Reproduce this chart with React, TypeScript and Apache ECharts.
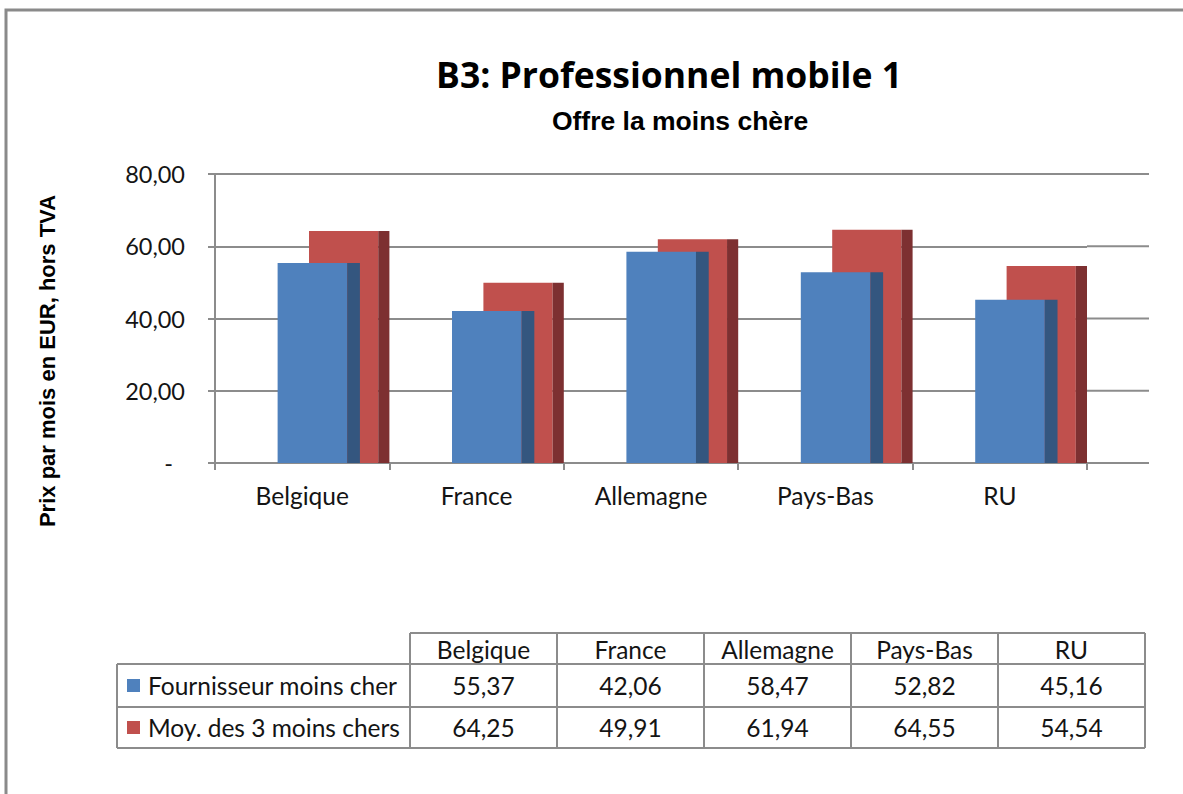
import React, { useEffect, useRef } from "react";
import * as echarts from "echarts";

const categories = ["Belgique", "France", "Allemagne", "Pays-Bas", "RU"];
const seriesNames = ["Fournisseur moins cher", "Moy. des 3 moins chers"];
const cheapest = [55.37, 42.06, 58.47, 52.82, 45.16];
const avg3 = [64.25, 49.91, 61.94, 64.55, 54.54];
const yTicks = [0, 20, 40, 60, 80];
const yTickLabels = ["-", "20,00", "40,00", "60,00", "80,00"];

const BLUE = "#4f81bd";
const BLUE_SIDE = "#34567f";
const RED = "#c0504d";
const RED_SIDE = "#7d3031";
const GRID_COLOR = "#8c8c8c";
const FONT = "Lato";
const TXT = "#141414";

const fmt = (v: number) => v.toFixed(2).replace(".", ",");

function makeRender(face: string, side: string, f0: number, f1: number, f2: number) {
  return (params: any, api: any) => {
    const idx = api.value(0);
    const val = api.value(1);
    const top = api.coord([idx, val]);
    const base = api.coord([idx, 0]);
    const w = api.size([1, 0])[0];
    const cx = top[0];
    const h = base[1] - top[1];
    return {
      type: "group",
      children: [
        { type: "rect", shape: { x: cx + f0 * w, y: top[1], width: (f1 - f0) * w, height: h }, style: { fill: face } },
        { type: "rect", shape: { x: cx + f1 * w, y: top[1], width: (f2 - f1) * w, height: h }, style: { fill: side } },
      ],
    };
  };
}

export default function App() {
  const ref = useRef<HTMLDivElement>(null);
  useEffect(() => {
    if (!ref.current) return;
    const chart = echarts.init(ref.current, null, { renderer: "svg" });
    const gridLeft = 215;
    const gridTop = 174;
    const gridWidth = 872;
    const gridHeight = 289;
    chart.setOption({
      animation: false,
      backgroundColor: "#ffffff",
      grid: { left: gridLeft, top: gridTop, width: gridWidth, height: gridHeight },
      xAxis: {
        type: "category",
        data: categories,
        axisLine: { lineStyle: { color: GRID_COLOR, width: 2 } },
        axisTick: { show: true, length: 7, interval: 0, lineStyle: { color: GRID_COLOR, width: 2 } },
        axisLabel: { color: TXT, fontFamily: FONT, fontSize: 24.5, margin: 20, interval: 0 },
      },
      yAxis: {
        type: "value",
        min: 0,
        max: 80,
        interval: 20,
        axisLine: { show: true, lineStyle: { color: GRID_COLOR, width: 2 } },
        axisTick: { show: true, length: 7, lineStyle: { color: GRID_COLOR, width: 2 } },
        splitLine: { show: true, lineStyle: { color: GRID_COLOR, width: 2 } },
        axisLabel: {
          color: TXT,
          fontFamily: FONT,
          fontSize: 23.5,
          margin: 30,
          formatter: (v: number) => {
            const i = yTicks.indexOf(v);
            const s = i >= 0 ? yTickLabels[i] : fmt(v);
            return v === 0 ? "{d|" + s + "}" : s;
          },
          rich: { d: { fontFamily: FONT, fontSize: 23.5, color: TXT, padding: [0, 12, 0, 0] } },
        },
      },
      series: [
        {
          type: "custom",
          name: seriesNames[1],
          renderItem: makeRender(RED, RED_SIDE, 0.039, 0.436, 0.5),
          encode: { x: 0, y: 1 },
          data: avg3.map((v, i) => [i, v]),
          z: 2,
        },
        {
          type: "custom",
          name: seriesNames[0],
          renderItem: makeRender(BLUE, BLUE_SIDE, -0.141, 0.258, 0.331),
          encode: { x: 0, y: 1 },
          data: cheapest.map((v, i) => [i, v]),
          z: 3,
        },
      ],
    });

    const rightEdge = gridLeft + gridWidth;
    const extEdge = 1149;
    const lineStyle = { stroke: GRID_COLOR, lineWidth: 2 };
    const graphics: any[] = [];
    graphics.push({ type: "rect", shape: { x: 6, y: 10, width: 1200, height: 800 }, style: { fill: "none", stroke: "#8a8a8a", lineWidth: 3 }, z: 0 });
    yTicks.forEach((v) => {
      const y = chart.convertToPixel({ yAxisIndex: 0 }, v) as number;
      graphics.push({ type: "line", shape: { x1: rightEdge, y1: y, x2: extEdge, y2: y }, style: lineStyle, z: 1 });
    });
    graphics.push({ type: "text", x: 669, y: 74, style: { text: "B3: Professionnel mobile 1", font: "bold 35.5px 'Open Sans'", fill: "#000", align: "center", verticalAlign: "middle" } });
    graphics.push({ type: "text", x: 680, y: 121, style: { text: "Offre la moins chère", font: "bold 26.5px 'Liberation Sans'", fill: "#000", align: "center", verticalAlign: "middle" } });
    graphics.push({ type: "text", x: 47, y: 361, rotation: Math.PI / 2, style: { text: "Prix par mois en EUR, hors TVA", font: "bold 22px 'Liberation Sans'", fill: "#000", align: "center", verticalAlign: "middle" } });

    const colX = [410, 557, 704, 851, 998, 1145];
    const rowY = [633, 664, 707, 748];
    const labelLeft = 117;
    const tStyle = { stroke: GRID_COLOR, lineWidth: 2 };
    graphics.push({ type: "line", shape: { x1: colX[0], y1: rowY[0], x2: colX[5], y2: rowY[0] }, style: tStyle });
    [rowY[1], rowY[2], rowY[3]].forEach((y) => {
      graphics.push({ type: "line", shape: { x1: labelLeft, y1: y, x2: colX[5], y2: y }, style: tStyle });
    });
    colX.forEach((x) => {
      graphics.push({ type: "line", shape: { x1: x, y1: rowY[0], x2: x, y2: rowY[3] }, style: tStyle });
    });
    graphics.push({ type: "line", shape: { x1: labelLeft, y1: rowY[1], x2: labelLeft, y2: rowY[3] }, style: tStyle });
    categories.forEach((c, i) => {
      graphics.push({ type: "text", x: (colX[i] + colX[i + 1]) / 2, y: (rowY[0] + rowY[1]) / 2 + 1, style: { text: c, font: "24.5px Lato", fill: TXT, align: "center", verticalAlign: "middle" } });
    });
    const rows = [cheapest, avg3];
    const colors = [BLUE, RED];
    rows.forEach((vals, r) => {
      const yc = (rowY[r + 1] + rowY[r + 2]) / 2;
      graphics.push({ type: "rect", shape: { x: 127, y: yc - 6.5, width: 13, height: 13 }, style: { fill: colors[r] } });
      graphics.push({ type: "text", x: 148, y: yc, style: { text: seriesNames[r], font: "24.5px Lato", fill: TXT, align: "left", verticalAlign: "middle" } });
      vals.forEach((v, i) => {
        graphics.push({ type: "text", x: (colX[i] + colX[i + 1]) / 2, y: yc, style: { text: fmt(v), font: "24.5px Lato", fill: TXT, align: "center", verticalAlign: "middle" } });
      });
    });

    chart.setOption({ graphic: graphics });
    return () => chart.dispose();
  }, []);
  return <div ref={ref} style={{ position: "absolute", left: 0, top: 0, width: 1183, height: 794 }} />;
}
